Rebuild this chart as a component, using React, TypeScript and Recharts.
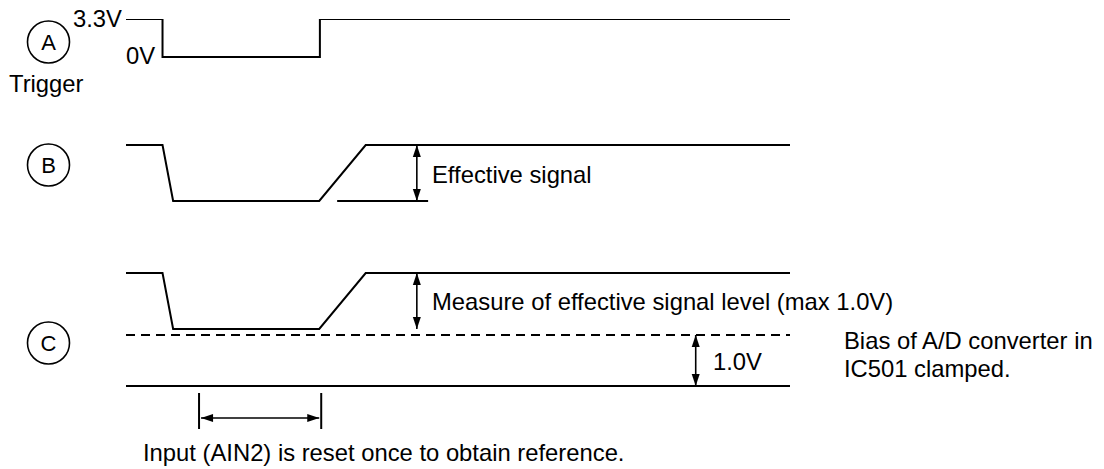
import React from "react";
import { LineChart, Line, XAxis, YAxis, ReferenceLine } from "recharts";

// time axis (0..100) and level axis (0..41), one lane per waveform
const edgeTimes = [0, 5.5, 5.5, 29.2, 29.2, 100];
const triggerLevels = [41, 41, 37.2, 37.2, 41, 41];
const rampTimes = [0, 5.5, 7.1, 29.1, 36.1, 100];
const signalBLevels = [28.4, 28.4, 22.8, 22.8, 28.4, 28.4];
const signalCLevels = [15.6, 15.6, 10.0, 10.0, 15.6, 15.6];
const biasLevel = 9.4;
const groundLevel = 4.3;
const bReferenceSpan = [31.8, 45.5];
const arrowTime = 43.8;
const clampArrowTime = 85.8;
const resetWindow = [11, 29.4];
const bracketLevels = [0, 3.6, 1.1];

const zip = (ts: number[], vs: number[]) => ts.map((t, i) => ({ t, v: vs[i] }));
const traceA = zip(edgeTimes, triggerLevels);
const traceB = zip(rampTimes, signalBLevels);
const traceC = zip(rampTimes, signalCLevels);

const FONT = "'Liberation Sans', Arial, Helvetica, sans-serif";

function head(x: number, y: number, ux: number, uy: number) {
  // arrowhead with tip at (x,y) pointing along (ux,uy)
  const len = 12;
  const half = 4;
  const bx = x - ux * len;
  const by = y - uy * len;
  const px = -uy * half;
  const py = ux * half;
  return `${x},${y} ${bx + px},${by + py} ${bx - px},${by - py}`;
}

function DoubleArrow(props: any) {
  const { x1, y1, x2, y2 } = props;
  const dx = x2 - x1;
  const dy = y2 - y1;
  const d = Math.hypot(dx, dy) || 1;
  const ux = dx / d;
  const uy = dy / d;
  return (
    <g>
      <line x1={x1} y1={y1} x2={x2} y2={y2} stroke="#000" strokeWidth={1.6} />
      <polygon points={head(x2, y2, ux, uy)} fill="#000" />
      <polygon points={head(x1, y1, -ux, -uy)} fill="#000" />
    </g>
  );
}

function Badge({ cx, cy, letter }: { cx: number; cy: number; letter: string }) {
  return (
    <g>
      <circle cx={cx} cy={cy} r={21} fill="none" stroke="#000" strokeWidth={1.6} />
      <text x={cx} y={cy + 8} textAnchor="middle" fontSize={22} fontFamily={FONT} fill="#000">
        {letter}
      </text>
    </g>
  );
}

const txt = { fontSize: 23.8, fontFamily: FONT, fill: "#000" };

export default function App() {
  return (
    <div style={{ position: "absolute", left: 0, top: 0, background: "#fff" }}>
      <LineChart
        width={1104}
        height={469}
        margin={{ top: 19, right: 314, left: 126, bottom: 40 }}
      >
        <XAxis type="number" dataKey="t" domain={[0, 100]} hide allowDataOverflow />
        <YAxis type="number" domain={[0, 41]} hide allowDataOverflow />

        <Line data={traceA} dataKey="v" type="linear" stroke="#000" strokeWidth={2} dot={false} isAnimationActive={false} />
        <Line data={traceB} dataKey="v" type="linear" stroke="#000" strokeWidth={2} dot={false} isAnimationActive={false} />
        <Line data={traceC} dataKey="v" type="linear" stroke="#000" strokeWidth={2} dot={false} isAnimationActive={false} />

        <ReferenceLine
          segment={[{ x: bReferenceSpan[0], y: signalBLevels[2] }, { x: bReferenceSpan[1], y: signalBLevels[2] }]}
          stroke="#000"
          strokeWidth={2}
        />
        <ReferenceLine y={biasLevel} stroke="#000" strokeWidth={2} strokeDasharray="9 6" />
        <ReferenceLine y={groundLevel} stroke="#000" strokeWidth={2} />

        <ReferenceLine
          segment={[{ x: arrowTime, y: signalBLevels[0] }, { x: arrowTime, y: signalBLevels[2] }]}
          shape={(p: any) => <DoubleArrow {...p} />}
        />
        <ReferenceLine
          segment={[{ x: arrowTime, y: signalCLevels[0] }, { x: arrowTime, y: signalCLevels[2] }]}
          shape={(p: any) => <DoubleArrow {...p} />}
        />
        <ReferenceLine
          segment={[{ x: clampArrowTime, y: biasLevel }, { x: clampArrowTime, y: groundLevel }]}
          shape={(p: any) => <DoubleArrow {...p} />}
        />

        <ReferenceLine
          segment={[{ x: resetWindow[0], y: bracketLevels[0] }, { x: resetWindow[0], y: bracketLevels[1] }]}
          stroke="#000"
          strokeWidth={2}
        />
        <ReferenceLine
          segment={[{ x: resetWindow[1], y: bracketLevels[0] }, { x: resetWindow[1], y: bracketLevels[1] }]}
          stroke="#000"
          strokeWidth={2}
        />
        <ReferenceLine
          segment={[{ x: resetWindow[0] + 0.3, y: bracketLevels[2] }, { x: resetWindow[1] - 0.3, y: bracketLevels[2] }]}
          shape={(p: any) => <DoubleArrow {...p} />}
        />

        <g>
          <Badge cx={48.5} cy={42} letter="A" />
          <Badge cx={48.5} cy={165} letter="B" />
          <Badge cx={48.5} cy={343} letter="C" />
          <text x={73} y={27} {...txt}>3.3V</text>
          <text x={126} y={64} {...txt}>0V</text>
          <text x={9} y={92} {...txt}>Trigger</text>
          <text x={432} y={183} {...txt}>Effective signal</text>
          <text x={432} y={310} {...txt}>Measure of effective signal level (max 1.0V)</text>
          <text x={713} y={370} {...txt}>1.0V</text>
          <text x={844} y={349} {...txt}>Bias of A/D converter in</text>
          <text x={844} y={377} {...txt}>IC501 clamped.</text>
          <text x={143} y={461} {...txt}>Input (AIN2) is reset once to obtain reference.</text>
        </g>
      </LineChart>
    </div>
  );
}
